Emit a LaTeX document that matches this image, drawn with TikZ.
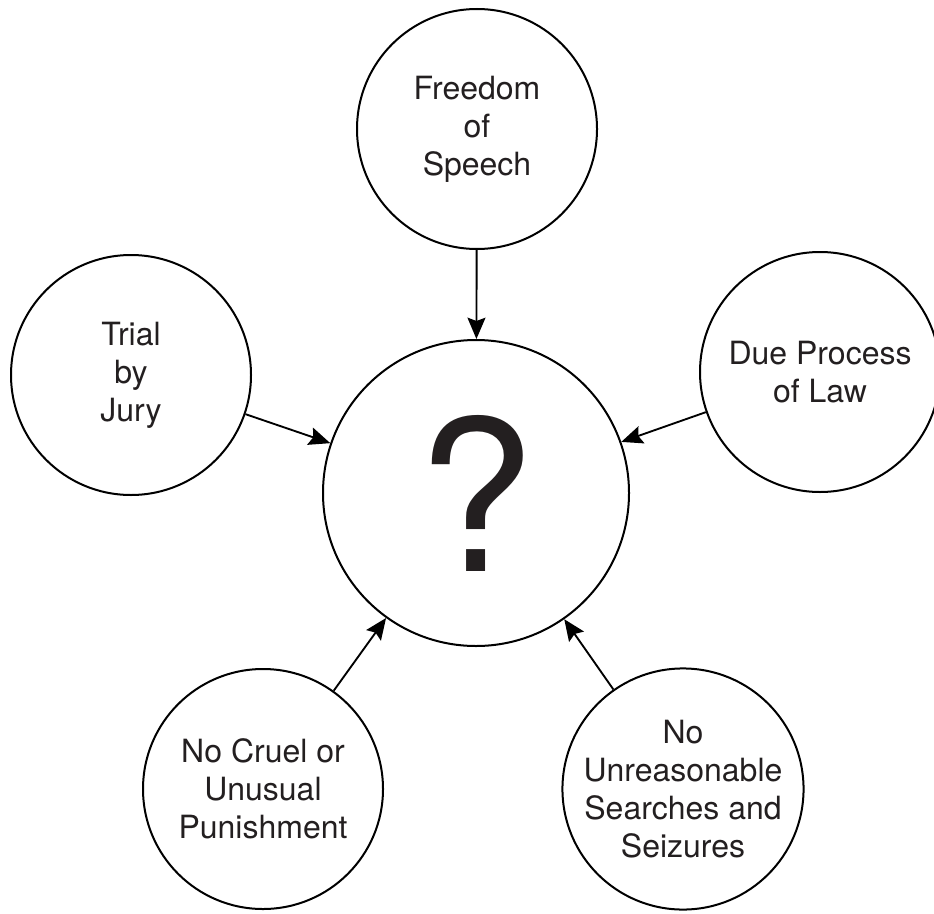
\documentclass[tikz,border=0pt]{standalone}
\usepackage{fontspec}
\setmainfont{TeX Gyre Heros}
\usetikzlibrary{arrows.meta}
\definecolor{inkgray}{RGB}{35,31,32}

\tikzset{every picture/.style={line width=1.5pt}}
\tikzset{
  topic/.style={draw, circle, minimum size=180pt, inner sep=0pt, align=center, text=inkgray, font=\fontsize{24}{28.5}\selectfont},
  feed/.style={-{Stealth[length=16pt,width=13.5pt,inset=2.5pt]}, line width=1.4pt}
}

\begin{document}
\begin{tikzpicture}[x=0.75pt,y=0.75pt,yscale=-1,xscale=1]
\useasboundingbox (0,0) rectangle (934,913); %set diagram to the size of the page

%Shape: Circle [id:question]
\node [draw, circle, minimum size=229.5pt, inner sep=0pt, text=inkgray, font=\fontsize{158}{158}\selectfont] (rights) at (476,493) {?};

%Shape: Circle [id:speech]
\node [topic] (speech) at (477,129) {Freedom\\of\\Speech};
%Shape: Circle [id:jury]
\node [topic] (jury) at (131,375) {Trial\\by\\Jury};
%Shape: Circle [id:law]
\node [topic] (law) at (820,372) {Due Process\\of Law};
%Shape: Circle [id:cruel]
\node [topic] (cruel) at (263,789) {No Cruel or\\Unusual\\Punishment};
%Shape: Circle [id:search]
\node [topic] (search) at (683,789) {No\\Unreasonable\\Searches and\\Seizures};

%Straight Lines [id:arrows]
\draw [feed] (speech) -- (rights);
\draw [feed] (jury) -- (rights);
\draw [feed] (law) -- (rights);
\draw [feed] (cruel) -- (rights);
\draw [feed] (search) -- (rights);

\end{tikzpicture}
\end{document}
